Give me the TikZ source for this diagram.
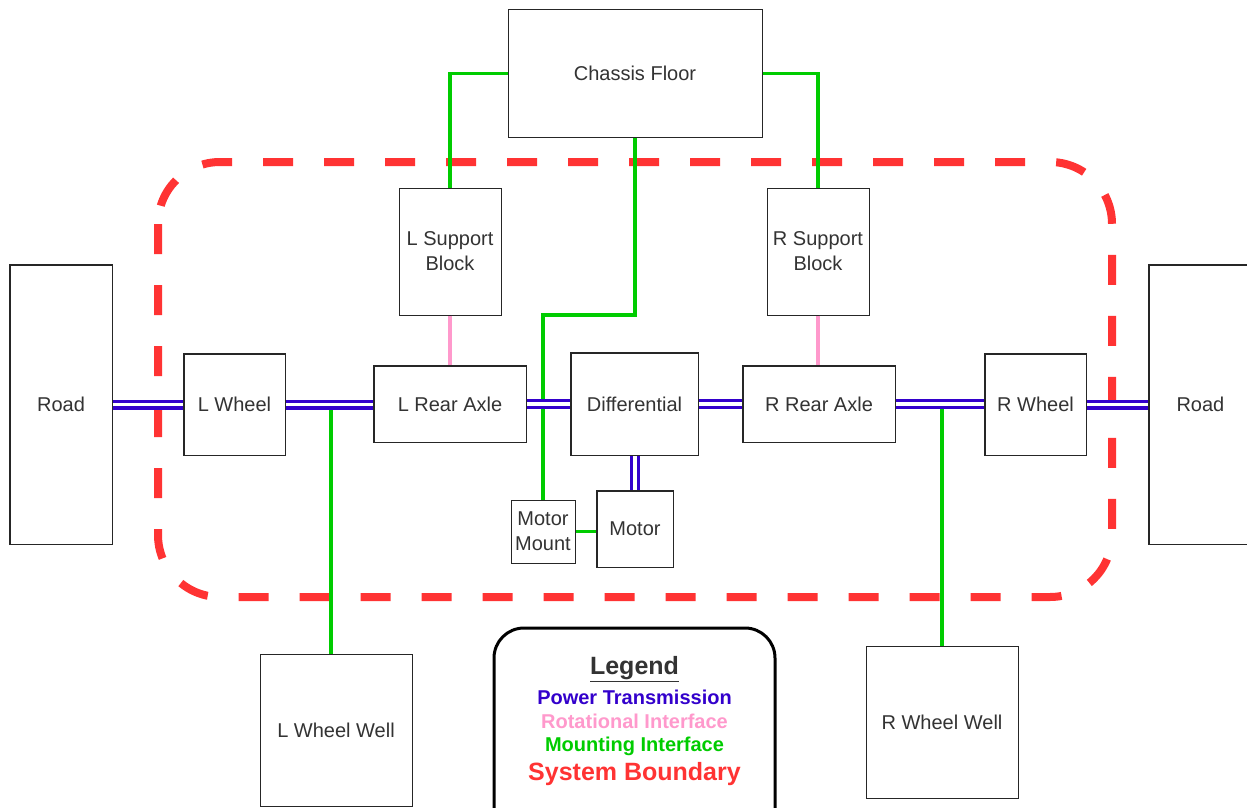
\documentclass[tikz,border=0pt]{standalone}
\usepackage{fontspec}
\setmainfont{Liberation Sans}
\definecolor{pblue}{RGB}{51,0,204}
\definecolor{ppink}{RGB}{255,153,204}
\definecolor{pgreen}{RGB}{0,204,0}
\definecolor{pred}{RGB}{255,51,51}
\definecolor{ptext}{RGB}{51,51,51}
\tikzset{
  box/.style={draw=black!85, line width=1pt, fill=white, text=ptext, align=center,
    font=\fontsize{20}{25}\selectfont, inner sep=0pt},
  power/.style={draw=pblue, double=white, line width=3.4pt, double distance=3.2pt},
  rot/.style={draw=ppink, line width=3.2pt},
  mount/.style={draw=pgreen, line width=3.2pt},
  boundary/.style={draw=pred, line width=8pt, dash pattern=on 30pt off 31pt, rounded corners=62pt},
  legtxt/.style={font=\fontsize{20}{22}\bfseries\selectfont, inner sep=0pt},
  legbig/.style={font=\fontsize{25}{27}\bfseries\selectfont, inner sep=0pt}
}
\begin{document}
\begin{tikzpicture}[x=1pt,y=-1pt]
\clip (0,0) rectangle (1247,808);
\fill[white] (0,0) rectangle (1247,808);

% system boundary
\draw[boundary] (158,162) rectangle (1112,597);

% nodes
\node[box, minimum width=254, minimum height=127] (cf) at (635,73.5) {Chassis Floor};
\node[box, minimum width=102, minimum height=127] (lsb) at (450,251.5) {L Support\\Block};
\node[box, minimum width=102, minimum height=127] (rsb) at (818,251.5) {R Support\\Block};
\node[box, minimum width=102, minimum height=279] (roadl) at (61,404.5) {Road};
\node[box, minimum width=111, minimum height=279, text width=100, align=left] (roadr) at (1204.5,404.5) {\hspace*{22pt}Road};
\node[box, minimum width=101, minimum height=101] (lw) at (234.5,404.5) {L Wheel};
\node[box, minimum width=152, minimum height=76] (lra) at (450,404) {L Rear Axle};
\node[box, minimum width=127, minimum height=102] (diff) at (634.5,404) {Differential};
\node[box, minimum width=152, minimum height=76] (rra) at (819,404) {R Rear Axle};
\node[box, minimum width=101, minimum height=101] (rw) at (1035.5,404.5) {R Wheel};
\node[box, minimum width=64, minimum height=63] (mm) at (543,531.5) {Motor\\Mount};
\node[box, minimum width=76, minimum height=76] (motor) at (635,529) {Motor};
\node[box, minimum width=152, minimum height=152] (lww) at (336,730) {L Wheel Well};
\node[box, minimum width=152, minimum height=152] (rww) at (942,722) {R Wheel Well};

% legend
\node[draw=black, line width=3pt, rounded corners=30pt, fill=white, minimum width=281, minimum height=220] (leg) at (634.5,738) {};
\node[legbig, text=ptext] (lgt) at (634.5,669) {\underline{Legend}};
\node[legtxt, text=pblue] (lg1) at (634.5,697) {Power Transmission};
\node[legtxt, text=ppink] (lg2) at (634.5,721) {Rotational Interface};
\node[legtxt, text=pgreen] (lg3) at (634.5,746) {Mounting Interface};
\node[legbig, text=pred] (lg4) at (634.5,774) {System Boundary};

% mounting interfaces
\coordinate (jc) at (0,315);
\draw[mount] (cf.west) -| (lsb.north);
\draw[mount] (cf.east) -| (rsb.north);
\draw[mount] (cf.south) -- (cf.south |- jc) -| (mm.north);
\draw[mount] (mm.east) -- (mm.east -| motor.west);
\draw[mount] ([xshift=-5pt]lww.north) -- ([xshift=-5pt]lww.north |- lw.east);
\draw[mount] (rww.north) -- (rww.north |- rw.west);

% rotational interfaces
\draw[rot] (lsb.south) -- (lsb.south |- lra.north);
\draw[rot] (rsb.south) -- (rsb.south |- rra.north);

% power transmission
\draw[power] (roadl.east |- lw.west) -- (lw.west);
\draw[power] (lw.east) -- (lw.east -| lra.west);
\draw[power] (lra.east) -- (lra.east -| diff.west);
\draw[power] (diff.east) -- (diff.east -| rra.west);
\draw[power] (rra.east) -- (rra.east -| rw.west);
\draw[power] (rw.east) -- (rw.east -| roadr.west);
\draw[power] (motor.north) -- (motor.north |- diff.south);

% redraw node borders over line ends
\foreach \n in {roadl,lw,lra,diff,rra,rw,motor,roadr}{
  \draw[draw=black!85, line width=1pt] (\n.south west) rectangle (\n.north east);
}
\end{tikzpicture}
\end{document}
